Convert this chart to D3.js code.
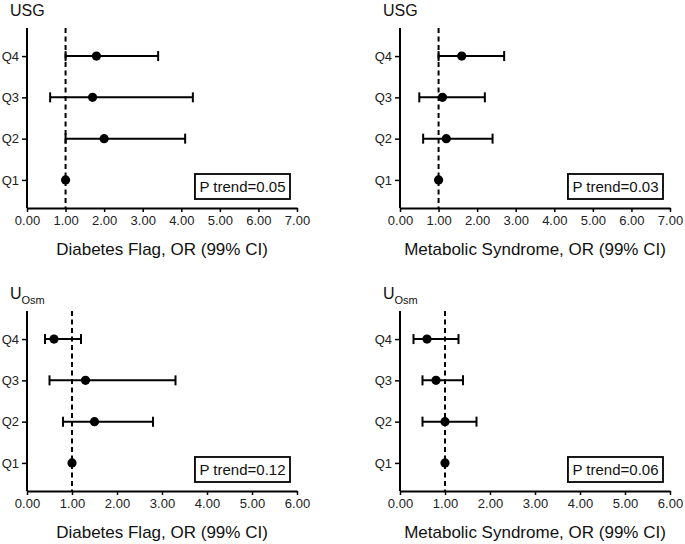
<!DOCTYPE html>
<html>
<head>
<meta charset="utf-8">
<script src="https://cdn.jsdelivr.net/npm/d3@7"></script>
<style>
  html, body { margin: 0; padding: 0; background: #fff; }
  svg { display: block; font-family: "Liberation Sans", Arial, sans-serif; }
</style>
</head>
<body>
<svg id="chart" width="685" height="544"></svg>
<script>
// ---- data (Q1..Q4) ----
const quartiles = ["Q1", "Q2", "Q3", "Q4"];

const usgDiabetesOR   = [1.0, 2.0, 1.7, 1.8];
const usgDiabetesLow  = [null, 1.0, 0.6, 1.0];
const usgDiabetesHigh = [null, 4.1, 4.3, 3.4];

const usgMetsOR   = [1.0, 1.2, 1.1, 1.6];
const usgMetsLow  = [null, 0.6, 0.5, 1.0];
const usgMetsHigh = [null, 2.4, 2.2, 2.7];

const uosmDiabetesOR   = [1.0, 1.5, 1.3, 0.6];
const uosmDiabetesLow  = [null, 0.8, 0.5, 0.4];
const uosmDiabetesHigh = [null, 2.8, 3.3, 1.2];

const uosmMetsOR   = [1.0, 1.0, 0.8, 0.6];
const uosmMetsLow  = [null, 0.5, 0.5, 0.3];
const uosmMetsHigh = [null, 1.7, 1.4, 1.3];

const xTicksUSG  = [0, 1, 2, 3, 4, 5, 6, 7];
const xTicksUOSM = [0, 1, 2, 3, 4, 5, 6];

const pTrends = ["P trend=0.05", "P trend=0.03", "P trend=0.12", "P trend=0.06"];
const xLabels = ["Diabetes Flag, OR (99% CI)", "Metabolic Syndrome, OR (99% CI)"];

// ---- layout ----
const svg = d3.select("#chart");
const W = 270;

const panels = [
  { x0: 27,  top: 28,  bottom: 208, or: usgDiabetesOR,  lo: usgDiabetesLow,  hi: usgDiabetesHigh,  ticks: xTicksUSG,  title: "USG", sub: null, p: pTrends[0], label: xLabels[0] },
  { x0: 400, top: 28,  bottom: 208, or: usgMetsOR,      lo: usgMetsLow,      hi: usgMetsHigh,      ticks: xTicksUSG,  title: "USG", sub: null, p: pTrends[1], label: xLabels[1] },
  { x0: 27,  top: 311, bottom: 491, or: uosmDiabetesOR, lo: uosmDiabetesLow, hi: uosmDiabetesHigh, ticks: xTicksUOSM, title: "U", sub: "Osm", p: pTrends[2], label: xLabels[0] },
  { x0: 400, top: 311, bottom: 491, or: uosmMetsOR,     lo: uosmMetsLow,     hi: uosmMetsHigh,     ticks: xTicksUOSM, title: "U", sub: "Osm", p: pTrends[3], label: xLabels[1] }
];

panels.forEach(pn => {
  const g = svg.append("g");
  const x = d3.scaleLinear().domain([pn.ticks[0], pn.ticks[pn.ticks.length - 1]]).range([pn.x0, pn.x0 + W]);
  const y = d3.scalePoint().domain(quartiles).range([pn.bottom, pn.top]).padding(0.68);

  // reference line at OR = 1
  g.append("line")
    .attr("x1", x(1)).attr("x2", x(1))
    .attr("y1", pn.top).attr("y2", pn.bottom)
    .attr("stroke", "#000").attr("stroke-width", 2)
    .attr("stroke-dasharray", "5,3.5");

  // x axis
  const xa = g.append("g")
    .attr("transform", `translate(0,${pn.bottom})`)
    .call(d3.axisBottom(x).tickValues(pn.ticks).tickFormat(d3.format(".2f")).tickSize(4).tickSizeOuter(0).tickPadding(4));
  xa.select(".domain").attr("stroke-width", 2);
  xa.selectAll(".tick line").attr("stroke-width", 1.5);
  xa.selectAll("text").attr("font-size", 13).attr("fill", "#222").attr("font-family", "Liberation Sans, Arial, sans-serif");

  // y axis
  const ya = g.append("g")
    .attr("transform", `translate(${pn.x0},0)`)
    .call(d3.axisLeft(y).tickSize(5).tickSizeOuter(0).tickPadding(3));
  ya.select(".domain").attr("stroke-width", 2).attr("d", `M0,${pn.top}V${pn.bottom}`);
  ya.selectAll(".tick line").attr("stroke-width", 1.5);
  ya.selectAll("text").attr("font-size", 13).attr("fill", "#222").attr("font-family", "Liberation Sans, Arial, sans-serif");

  // error bars
  quartiles.forEach((q, i) => {
    if (pn.lo[i] == null) return;
    const yy = y(q);
    g.append("line").attr("x1", x(pn.lo[i])).attr("x2", x(pn.hi[i]))
      .attr("y1", yy).attr("y2", yy).attr("stroke", "#000").attr("stroke-width", 2);
    [pn.lo[i], pn.hi[i]].forEach(v => {
      g.append("line").attr("x1", x(v)).attr("x2", x(v))
        .attr("y1", yy - 5).attr("y2", yy + 5).attr("stroke", "#000").attr("stroke-width", 2);
    });
  });

  // points
  g.selectAll("circle.pt").data(quartiles).enter().append("circle")
    .attr("class", "pt")
    .attr("cx", (q, i) => x(pn.or[i]))
    .attr("cy", q => y(q))
    .attr("r", 4.6)
    .attr("fill", "#000");

  // title
  const t = g.append("text")
    .attr("x", pn.x0 - 17).attr("y", pn.top - 12)
    .attr("font-size", 16).attr("fill", "#111")
    .text(pn.title);
  if (pn.sub) {
    t.append("tspan").attr("font-size", 11).attr("dy", 4.5).text(pn.sub);
  }

  // x label
  g.append("text")
    .attr("x", pn.x0 + W / 2).attr("y", pn.bottom + 47)
    .attr("text-anchor", "middle")
    .attr("font-size", 17).attr("fill", "#111")
    .text(pn.label);

  // P trend box
  const boxRight = pn.x0 + 263, boxBottom = pn.bottom - 9, boxH = 25;
  const rect = g.append("rect")
    .attr("fill", "#fff").attr("stroke", "#000").attr("stroke-width", 1.8);
  const pt = g.append("text")
    .attr("font-size", 15).attr("fill", "#111")
    .text(pn.p);
  const tw = pt.node().getComputedTextLength();
  const boxW = tw + 9;
  rect.attr("x", boxRight - boxW).attr("y", boxBottom - boxH)
    .attr("width", boxW).attr("height", boxH);
  pt.attr("x", boxRight - boxW + 4.5).attr("y", boxBottom - 7.5);
});
</script>
</body>
</html>
